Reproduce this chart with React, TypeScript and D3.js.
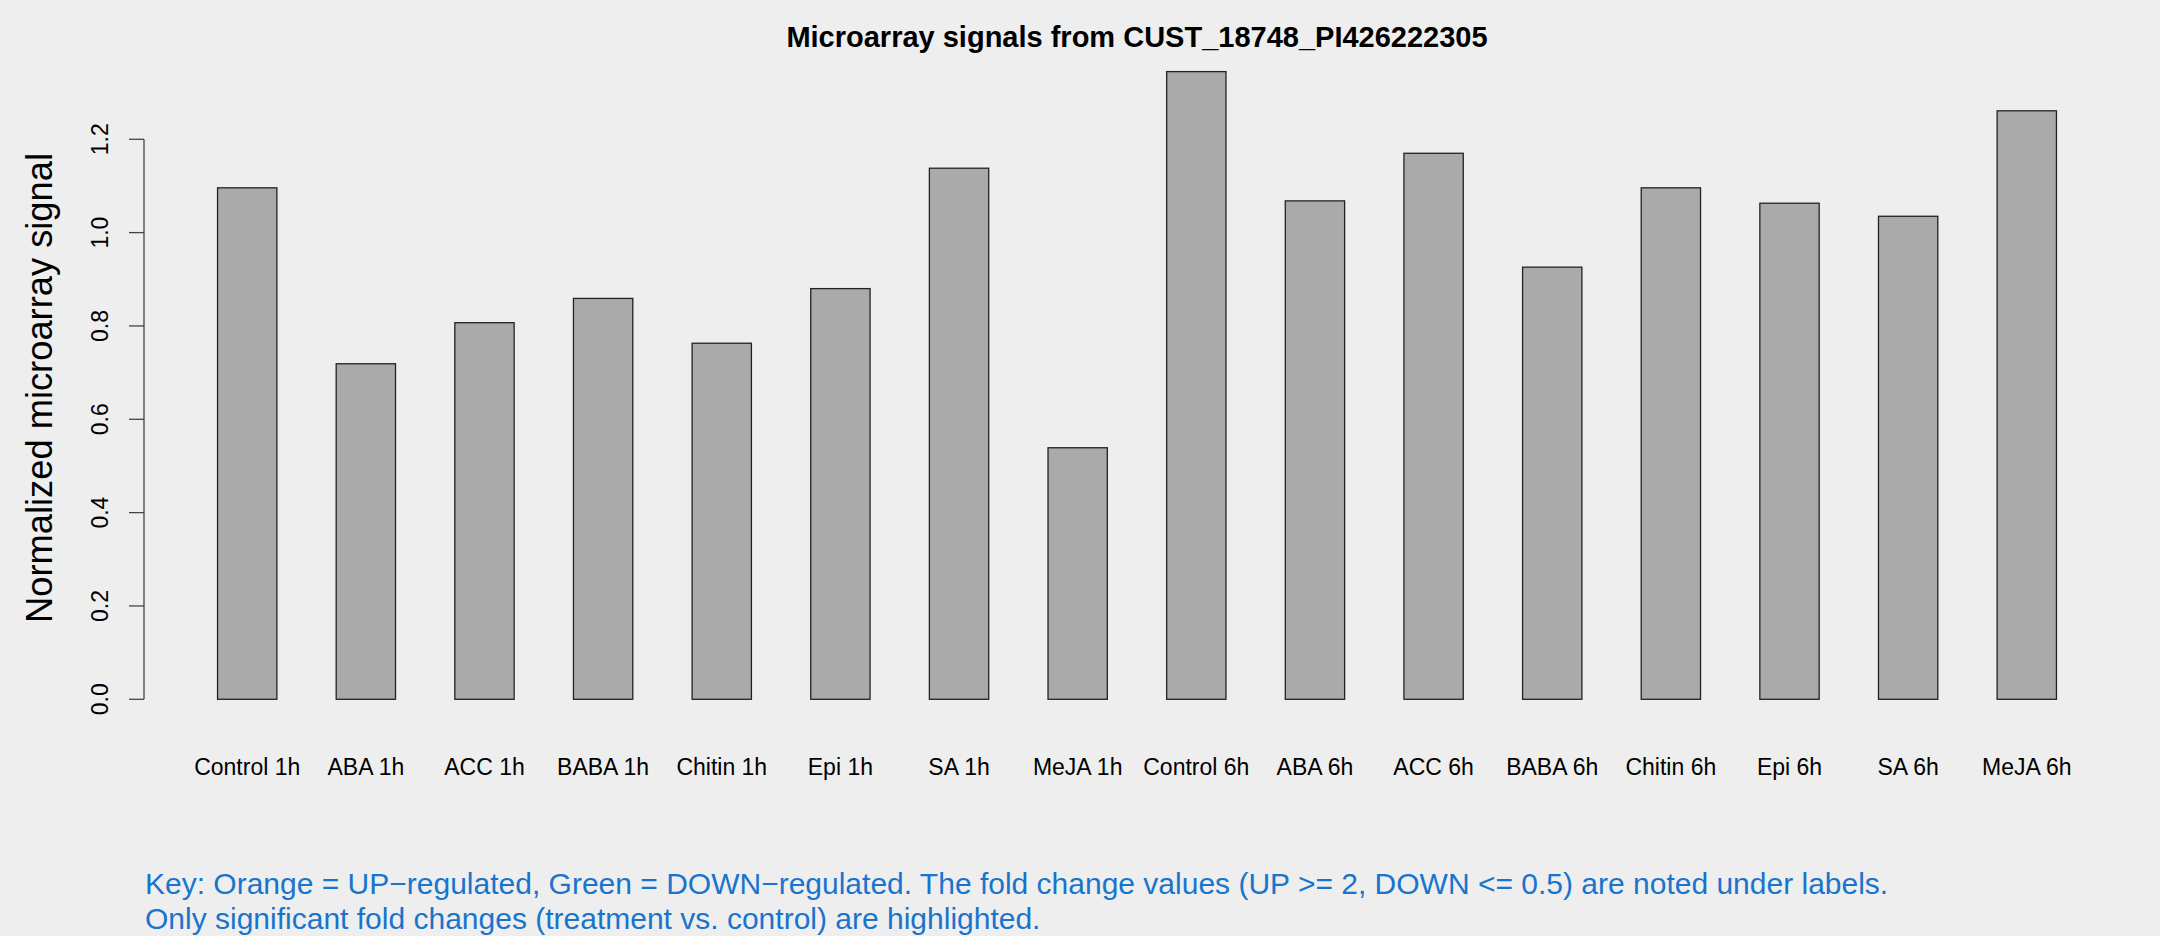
import React from "react";
import * as d3 from "d3";

const categories = [
  "Control 1h", "ABA 1h", "ACC 1h", "BABA 1h", "Chitin 1h", "Epi 1h", "SA 1h", "MeJA 1h",
  "Control 6h", "ABA 6h", "ACC 6h", "BABA 6h", "Chitin 6h", "Epi 6h", "SA 6h", "MeJA 6h",
];
const signalValues = [
  1.096, 0.719, 0.807, 0.859, 0.763, 0.880, 1.138, 0.539,
  1.345, 1.068, 1.170, 0.926, 1.096, 1.063, 1.035, 1.261,
];
const yTickValues = [0, 0.2, 0.4, 0.6, 0.8, 1.0, 1.2];
const titleText = "Microarray signals from CUST_18748_PI426222305";
const yLabelText = "Normalized microarray signal";
const keyLines = [
  "Key: Orange = UP\u2212regulated, Green = DOWN\u2212regulated. The fold change values (UP >= 2, DOWN <= 0.5) are noted under labels.",
  "Only significant fold changes (treatment vs. control) are highlighted.",
];

const W = 2160;
const H = 936;
const plotLeft = 144;
const plotRight = 2130;
const plotTop = 46.5;
const plotBottom = 724.4;
const FONT = "'Liberation Sans', Arial, Helvetica, sans-serif";

export default function App() {
  const n = categories.length;
  const maxV = d3.max(signalValues) as number;
  // R barplot style: bar i spans [1+2i, 2+2i]; limits extended 4%
  const xMin = 1, xMax = 2 * n;
  const ext = 0.04 * (xMax - xMin);
  const x = d3.scaleLinear().domain([xMin - ext, xMax + ext]).range([plotLeft, plotRight]);
  const y = d3.scaleLinear().domain([-0.04 * maxV, 1.04 * maxV]).range([plotBottom, plotTop]);

  return (
    <svg
      width={W}
      height={H}
      style={{ position: "absolute", left: 0, top: 0, display: "block" }}
      xmlns="http://www.w3.org/2000/svg"
    >
      <rect x={0} y={0} width={W} height={H} fill="#eeeeee" />
      <text
        x={(plotLeft + plotRight) / 2}
        y={47}
        textAnchor="middle"
        fontFamily={FONT}
        fontWeight="bold"
        fontSize={29}
        fill="#000"
      >
        {titleText}
      </text>

      {signalValues.map((v, i) => (
        <rect
          key={categories[i]}
          x={x(1 + 2 * i)}
          y={y(v)}
          width={x(2 + 2 * i) - x(1 + 2 * i)}
          height={y(0) - y(v)}
          fill="#aaaaaa"
          stroke="#222"
          strokeWidth={1.3}
        />
      ))}

      {/* y axis */}
      <line
        x1={plotLeft}
        x2={plotLeft}
        y1={y(yTickValues[0])}
        y2={y(yTickValues[yTickValues.length - 1])}
        stroke="#444"
        strokeWidth={1.3}
      />
      {yTickValues.map((t) => (
        <g key={t}>
          <line x1={plotLeft - 15} x2={plotLeft} y1={y(t)} y2={y(t)} stroke="#444" strokeWidth={1.3} />
          <text
            transform={`translate(108,${y(t)}) rotate(-90)`}
            textAnchor="middle"
            fontFamily={FONT}
            fontSize={23}
            fill="#000"
          >
            {t.toFixed(1)}
          </text>
        </g>
      ))}
      <text
        transform={`translate(52,388) rotate(-90)`}
        textAnchor="middle"
        fontFamily={FONT}
        fontSize={36.3}
        fill="#000"
      >
        {yLabelText}
      </text>

      {categories.map((c, i) => (
        <text
          key={c}
          x={x(1.5 + 2 * i)}
          y={775}
          textAnchor="middle"
          fontFamily={FONT}
          fontSize={23}
          fill="#000"
        >
          {c}
        </text>
      ))}

      {keyLines.map((line, i) => (
        <text
          key={i}
          x={145}
          y={894 + i * 35}
          fontFamily={FONT}
          fontSize={30}
          fill="#1874cd"
        >
          {line}
        </text>
      ))}
    </svg>
  );
}
